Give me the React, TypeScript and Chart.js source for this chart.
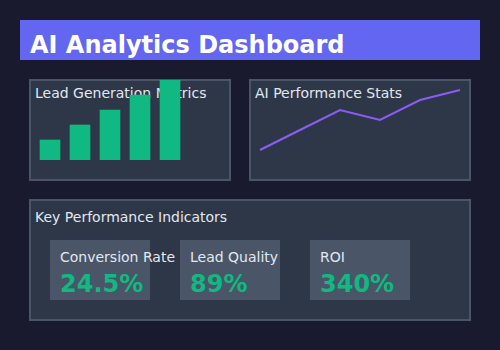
import React, { useEffect, useRef } from "react";
import { Chart, registerables } from "chart.js";

Chart.register(...registerables);

const leadCategories = ["W1", "W2", "W3", "W4", "W5"];
const leadValues = [20, 35, 50, 65, 80];

const perfCategories = ["P1", "P2", "P3", "P4", "P5", "P6"];
const perfValues = [60, 70, 80, 75, 85, 90];

const kpiLabels = ["Conversion Rate", "Lead Quality", "ROI"];
const kpiValues = ["24.5%", "89%", "340%"];

const FONT = "'DejaVu Sans', sans-serif";

function BarPanel() {
  const ref = useRef<HTMLCanvasElement | null>(null);
  useEffect(() => {
    if (!ref.current) return;
    const chart = new Chart(ref.current, {
      type: "bar",
      data: {
        labels: leadCategories,
        datasets: [
          {
            data: leadValues,
            backgroundColor: "#10b981",
            borderWidth: 0,
            barThickness: 20,
          },
        ],
      },
      options: {
        responsive: false,
        animation: false,
        devicePixelRatio: 1,
        layout: { padding: { left: 5, right: 45, top: 0, bottom: 20 } },
        plugins: { legend: { display: false }, tooltip: { enabled: false }, title: { display: false } },
        scales: {
          x: { display: false, offset: true, grid: { display: false } },
          y: { display: false, min: 0, max: 80 },
        },
      },
    });
    return () => chart.destroy();
  }, []);
  return (
    <canvas
      ref={ref}
      width={200}
      height={100}
      style={{ position: "absolute", left: 30, top: 80, width: 200, height: 100 }}
    />
  );
}

function LinePanel() {
  const ref = useRef<HTMLCanvasElement | null>(null);
  useEffect(() => {
    if (!ref.current) return;
    const chart = new Chart(ref.current, {
      type: "line",
      data: {
        labels: perfCategories,
        datasets: [
          {
            data: perfValues,
            borderColor: "#8b5cf6",
            borderWidth: 2,
            pointRadius: 0,
            tension: 0,
            fill: false,
            clip: false as any,
          },
        ],
      },
      options: {
        responsive: false,
        animation: false,
        devicePixelRatio: 1,
        layout: { padding: { left: 10, right: 10, top: 0, bottom: 0 } },
        plugins: { legend: { display: false }, tooltip: { enabled: false }, title: { display: false } },
        scales: {
          x: { display: false, offset: false },
          y: { display: false, min: 45, max: 95 },
        },
      },
    });
    return () => chart.destroy();
  }, []);
  return (
    <canvas
      ref={ref}
      width={220}
      height={100}
      style={{ position: "absolute", left: 250, top: 80, width: 220, height: 100 }}
    />
  );
}

export default function App() {
  const cardX = [50, 180, 310];
  return (
    <div
      style={{
        position: "absolute",
        left: 0,
        top: 0,
        width: 500,
        height: 350,
        background: "#1a1a2e",
        overflow: "hidden",
      }}
    >
      <svg
        width={500}
        height={350}
        style={{ position: "absolute", left: 0, top: 0 }}
        fontFamily={FONT}
      >
        <rect x={20} y={20} width={460} height={40} fill="#6366f1" />
        <text x={30} y={53} fill="#ffffff" fontSize={24} fontWeight="bold">
          AI Analytics Dashboard
        </text>

        <rect x={30} y={80} width={200} height={100} fill="#2d3748" stroke="#4a5568" strokeWidth={2} />
        <text x={35} y={98} fill="#e2e8f0" fontSize={14}>
          Lead Generation Metrics
        </text>

        <rect x={250} y={80} width={220} height={100} fill="#2d3748" stroke="#4a5568" strokeWidth={2} />
        <text x={255} y={98} fill="#e2e8f0" fontSize={14}>
          AI Performance Stats
        </text>

        <rect x={30} y={200} width={440} height={120} fill="#2d3748" stroke="#4a5568" strokeWidth={2} />
        <text x={35} y={222} fill="#e2e8f0" fontSize={14}>
          Key Performance Indicators
        </text>

        {kpiLabels.map((label, i) => (
          <g key={label}>
            <rect x={cardX[i]} y={240} width={100} height={60} fill="#4a5568" />
          </g>
        ))}
        {kpiLabels.map((label, i) => (
          <g key={label + "t"}>
            <text x={cardX[i] + 10} y={262} fill="#e2e8f0" fontSize={14}>
              {label}
            </text>
            <text x={cardX[i] + 10} y={292} fill="#10b981" fontSize={24} fontWeight="bold">
              {kpiValues[i]}
            </text>
          </g>
        ))}
      </svg>
      <BarPanel />
      <LinePanel />
    </div>
  );
}
